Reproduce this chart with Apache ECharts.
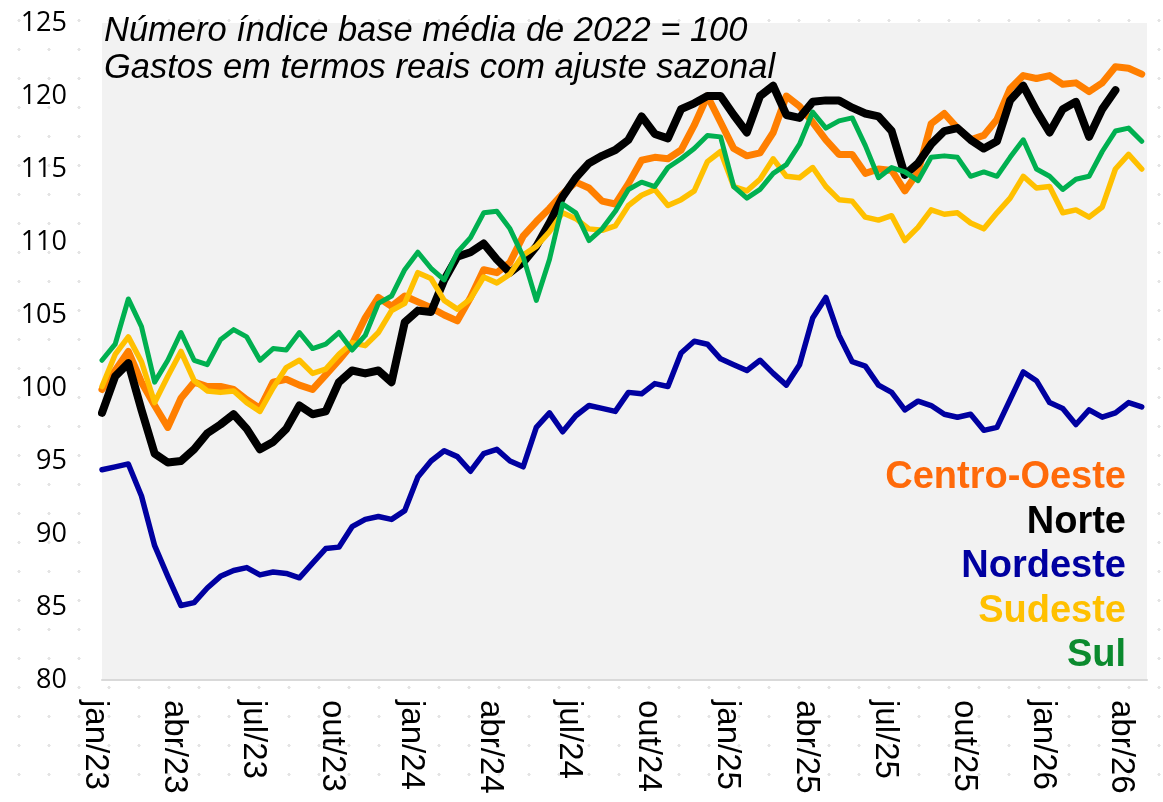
<!DOCTYPE html>
<html>
<head>
<meta charset="utf-8">
<script src="https://cdn.jsdelivr.net/npm/echarts@6/dist/echarts.min.js"></script>
<style>
  html, body { margin:0; padding:0; background:#fff; }
  #main {
    width:1163px; height:802px;
    background-image: radial-gradient(circle, #e4e4e4 1.4px, transparent 1.8px);
    background-size: 30px 29px;
    background-position: 4px 6px;
  }
</style>
</head>
<body>
<div id="main"></div>
<script>
// passo de meio mês entre pontos, eixo x em meses desde jan/23
var PASSO = 0.5;
var mesesRotulo = ['jan','abr','jul','out'];

var centroOeste = [99.9,101.2,102.5,100.4,98.8,97.3,99.3,100.4,100.1,100.1,
 99.9,99.2,98.6,100.4,100.6,100.2,99.9,100.9,101.9,103.0,
 104.8,106.2,105.6,106.3,105.9,105.5,105.0,104.6,106.2,108.1,
 107.9,108.6,110.4,111.4,112.3,113.3,114.1,113.7,112.8,112.6,
 114.0,115.6,115.8,115.7,116.3,118.0,120.0,118.2,116.4,115.9,
 116.1,117.5,120.0,119.3,118.2,117.0,116.0,116.0,114.7,115.0,
 114.9,113.5,114.8,118.1,118.8,117.8,117.0,117.3,118.4,120.5,
 121.4,121.2,121.4,120.8,120.9,120.3,120.9,122.0,121.9,121.5];

var norte = [98.3,100.8,101.7,98.5,95.5,94.9,95.0,95.8,96.9,97.5,
 98.2,97.2,95.8,96.3,97.2,98.8,98.2,98.4,100.4,101.2,
 101.0,101.2,100.4,104.5,105.3,105.2,107.4,109.0,109.3,109.9,
 108.8,107.9,108.6,109.7,111.3,113.1,114.4,115.4,115.9,116.3,
 117.0,118.6,117.4,117.1,119.1,119.5,120.0,120.0,118.7,117.5,
 120.0,120.7,118.7,118.5,119.6,119.7,119.7,119.2,118.8,118.6,
 117.6,114.6,115.4,116.7,117.6,117.8,117.0,116.4,116.9,119.7,
 120.7,119.0,117.5,119.1,119.6,117.2,119.1,120.4,null,null];

var nordeste = [94.4,94.6,94.8,92.6,89.2,87.1,85.1,85.3,86.3,87.1,
 87.5,87.7,87.2,87.4,87.3,87.0,88.0,89.0,89.1,90.5,
 91.0,91.2,91.0,91.6,93.9,95.0,95.7,95.3,94.3,95.5,
 95.8,95.0,94.6,97.3,98.3,97.0,98.1,98.8,98.6,98.4,
 99.7,99.6,100.3,100.1,102.4,103.2,103.0,102.0,101.6,101.2,
 101.9,101.0,100.2,101.6,104.8,106.2,103.6,101.8,101.5,100.2,
 99.7,98.5,99.1,98.8,98.2,98.0,98.2,97.1,97.3,99.2,
 101.1,100.5,99.0,98.6,97.5,98.5,98.0,98.3,99.0,98.7];

var sudeste = [100.1,102.3,103.5,101.8,99.0,100.8,102.5,100.5,99.8,99.7,
 99.8,99.0,98.4,100.0,101.4,101.9,101.0,101.3,102.3,103.1,
 102.9,103.8,105.3,105.8,107.9,107.5,106.0,105.4,106.1,107.6,
 107.2,107.8,109.1,109.7,110.7,112.0,111.6,110.9,110.8,111.1,
 112.5,113.2,113.6,112.5,112.9,113.5,115.5,116.2,113.8,113.5,
 114.3,115.7,114.5,114.4,115.1,113.8,112.9,112.8,111.7,111.5,
 111.8,110.1,111.0,112.2,111.9,112.0,111.3,110.9,112.0,113.0,
 114.5,113.7,113.8,112.0,112.2,111.7,112.4,115.0,116.0,115.0];

var sul = [101.9,103.0,106.1,104.2,100.4,101.9,103.8,101.9,101.6,103.3,
 104.0,103.5,101.9,102.7,102.6,103.8,102.7,103.0,103.8,102.6,
 103.6,105.8,106.3,108.1,109.3,108.2,107.4,109.3,110.3,112.0,
 112.1,110.9,109.0,106.0,108.8,112.6,112.0,110.1,110.9,112.1,
 113.6,114.1,113.8,115.1,115.7,116.4,117.3,117.2,113.8,113.0,
 113.6,114.7,115.3,116.7,118.9,117.8,118.3,118.5,116.6,114.4,
 115.1,114.8,114.2,115.8,115.9,115.8,114.5,114.8,114.5,115.8,
 117.0,115.0,114.5,113.6,114.3,114.5,116.2,117.6,117.8,116.9];

var regioes = [
  {nome:'Centro-Oeste', dados:centroOeste, cor:'#ff7f00', corTexto:'#ff6a0a', largura:7},
  {nome:'Norte',        dados:norte,       cor:'#000000', corTexto:'#000000', largura:8},
  {nome:'Nordeste',     dados:nordeste,    cor:'#0000a0', corTexto:'#0000a0', largura:5.5},
  {nome:'Sudeste',      dados:sudeste,     cor:'#ffc000', corTexto:'#ffc000', largura:5.5},
  {nome:'Sul',          dados:sul,         cor:'#00b050', corTexto:'#0b8a2e', largura:5}
];

function pares(arr){
  return arr.map(function(v,i){ return [i*PASSO, v]; });
}

var series = regioes.map(function(r){
  return {
    name: r.nome,
    type: 'line',
    data: pares(r.dados),
    showSymbol: false,
    symbol: 'none',
    connectNulls: false,
    lineStyle: { color: r.cor, width: r.largura, join: 'round', cap: 'round' },
    itemStyle: { color: r.cor },
    animation: false
  };
});

var legenda = regioes.map(function(r,i){
  return {
    type: 'text',
    x: 1126,
    y: 478 + i*44.5,
    style: {
      text: r.nome,
      fill: r.corTexto,
      fontSize: 38,
      fontWeight: 'bold',
      fontFamily: 'Liberation Sans',
      align: 'right',
      verticalAlign: 'middle'
    }
  };
});

var chart = echarts.init(document.getElementById('main'), null, {renderer:'canvas'});
chart.setOption({
  backgroundColor: 'transparent',
  animation: false,
  grid: {
    left: 102, right: 16, top: 23, bottom: 122,
    show: true, backgroundColor: '#f2f2f2', borderWidth: 0
  },
  xAxis: {
    type: 'value',
    min: 0, max: 39.7, interval: 3,
    axisLine: { show: true, lineStyle: { color: '#d9d9d9', width: 2 } },
    axisTick: { show: false },
    splitLine: { show: false },
    axisLabel: {
      rotate: -90,
      margin: 20,
      verticalAlign: 'top',
      lineHeight: 14,
      showMaxLabel: false,
      color: '#000',
      fontSize: 33,
      fontFamily: 'Liberation Sans',
      formatter: function(v){
        if (v % 3 !== 0) return '';
        var q = (v/3) % 4;
        var ano = 23 + Math.floor(v/12);
        return mesesRotulo[q] + '/' + ano;
      }
    }
  },
  yAxis: {
    type: 'value',
    min: 80, max: 125, interval: 5,
    axisLine: { show: false },
    axisTick: { show: false },
    splitLine: { show: false },
    axisLabel: {
      margin: 35,
      color: '#000',
      fontSize: 27,
      fontFamily: 'Open Sans'
    }
  },
  graphic: [
    {
      type: 'text',
      x: 104, y: 13,
      style: {
        text: 'Número índice base média de 2022 = 100\nGastos em termos reais com ajuste sazonal',
        fill: '#000',
        fontSize: 34.5,
        fontStyle: 'italic',
        fontFamily: 'Liberation Sans',
        lineHeight: 37
      },
      z: 10
    }
  ].concat(legenda),
  series: series
});
</script>
</body>
</html>
